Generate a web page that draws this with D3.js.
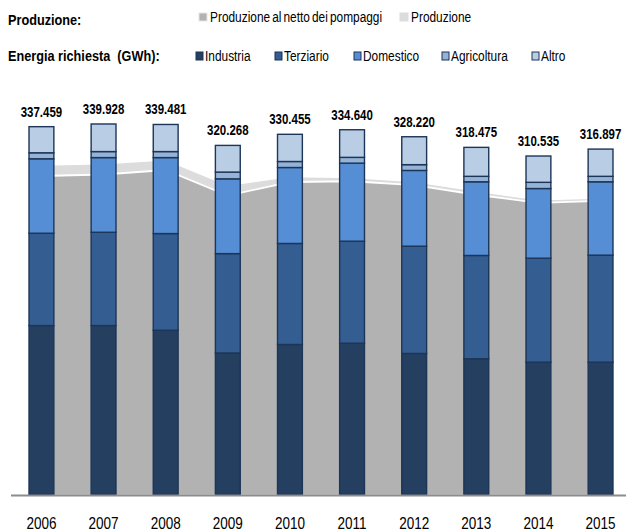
<!DOCTYPE html>
<html>
<head>
<meta charset="utf-8">
<script src="https://cdn.jsdelivr.net/npm/d3@7/dist/d3.min.js"></script>
<style>
  html, body { margin: 0; padding: 0; background: #fff; }
  svg { display: block; }
  text { font-family: "Liberation Sans", Arial, sans-serif; fill: #000; }
</style>
</head>
<body>
<svg id="chart" width="626" height="532"></svg>
<script>
// Energia richiesta per settore (GWh) e produzione, 2006-2015
const years = ["2006", "2007", "2008", "2009", "2010", "2011", "2012", "2013", "2014", "2015"];
const industria   = [155000, 155000, 150700, 129800, 137600, 138800, 129400, 124500, 121400, 121400];
const terziario   = [84700, 85600, 88700, 91200, 92700, 93600, 98400, 94800, 95400, 98200];
const domestico   = [68300, 68500, 69700, 68600, 69700, 71600, 69500, 67600, 63900, 67300];
const agricoltura = [5500, 5500, 5500, 6200, 5500, 5300, 5300, 5000, 5700, 5000];
const altro       = [23959, 25328, 24881, 24468, 24955, 25340, 25620, 26575, 24135, 24997];

// Produzione netta e produzione al netto dei pompaggi (GWh)
const produzione      = [301600, 302800, 306400, 283000, 291000, 290200, 286500, 277800, 269800, 271300];
const produzioneNetta = [292200, 293600, 297700, 274300, 286700, 287400, 283800, 275000, 267600, 269300];

const seriesKeys   = ["Industria", "Terziario", "Domestico", "Agricoltura", "Altro"];
const seriesValues = [industria, terziario, domestico, agricoltura, altro];
const seriesColors = ["#243f60", "#345d91", "#558ed5", "#95b3d7", "#b9cde5"];
const barStroke = "#1d3557";
const NARROW = 0.82; // horizontal squeeze giving a narrow face

const rows = years.map((y, i) => {
  const r = { year: y };
  seriesKeys.forEach((k, j) => r[k] = seriesValues[j][i]);
  r.prod = produzione[i];
  r.prodNetta = produzioneNetta[i];
  return r;
});

const svg = d3.select("#chart");

// condensed text helper
function narrowText(parent, x, y, str, size, opts = {}) {
  const t = parent.append("text")
    .attr("transform", `translate(${x},${y}) scale(${NARROW},1)`)
    .attr("font-size", size)
    .attr("text-anchor", opts.anchor || "start")
    .text(str);
  if (opts.bold) t.attr("font-weight", "bold");
  if (opts.wordSpacing != null) t.attr("word-spacing", opts.wordSpacing);
  t.style("white-space", "pre");
  return t;
}

const x = d3.scaleBand().domain(years).range([11, 631]).paddingInner(0.6).paddingOuter(0.29);
const y = d3.scaleLinear().domain([0, 400000]).range([494.5, 58.5]);
const cx = d => x(d.year) + x.bandwidth() / 2;

// Aree di produzione
svg.append("path")
  .datum(rows)
  .attr("fill", "#dcdcdc")
  .attr("d", d3.area().x(cx).y0(y(0)).y1(d => y(d.prod)));

svg.append("path")
  .datum(rows)
  .attr("fill", "#b2b2b2")
  .attr("d", d3.area().x(cx).y0(y(0)).y1(d => y(d.prodNetta)));

svg.append("path")
  .datum(rows)
  .attr("fill", "none")
  .attr("stroke", "#ffffff")
  .attr("stroke-width", 1.8)
  .attr("d", d3.line().x(cx).y(d => y(d.prodNetta)));

// Barre impilate
const stack = d3.stack().keys(seriesKeys)(rows);
const layers = svg.append("g").selectAll("g")
  .data(stack)
  .join("g")
  .attr("fill", (d, i) => seriesColors[i]);

layers.selectAll("rect")
  .data(d => d)
  .join("rect")
  .attr("x", d => x(d.data.year))
  .attr("width", x.bandwidth())
  .attr("y", d => y(d[1]))
  .attr("height", d => y(d[0]) - y(d[1]))
  .attr("stroke", barStroke)
  .attr("stroke-width", 1.4);

// Asse orizzontale
svg.append("line")
  .attr("x1", 11).attr("x2", 626)
  .attr("y1", 495.5).attr("y2", 495.5)
  .attr("stroke", "#8c8c8c")
  .attr("stroke-width", 2);

const xAxis = d3.axisBottom(x).tickSize(0).tickPadding(0);
const axisG = svg.append("g")
  .attr("transform", "translate(0,528.5)")
  .call(xAxis);
axisG.select(".domain").remove();
axisG.selectAll("text")
  .attr("font-size", 16.5)
  .attr("dy", 0)
  .attr("y", 0)
  .attr("transform", `scale(${NARROW},1)`)
  .style("font-family", "'Liberation Sans', Arial, sans-serif")
  .attr("fill", "#000");

// Totali sopra le barre
const fmt = d3.formatLocale({ decimal: ",", thousands: ".", grouping: [3] }).format(",d");
const totG = svg.append("g");
rows.forEach(d => {
  const tot = d3.sum(seriesKeys, k => d[k]);
  narrowText(totG, cx(d), y(tot) - 10, fmt(tot), 14, { bold: true, anchor: "middle" });
});

// Legenda
const leg = svg.append("g");
narrowText(leg, 8, 25, "Produzione:", 15.5, { bold: true });
narrowText(leg, 8, 61, "Energia richiesta  (GWh):", 15.5, { bold: true });

const prodLegend = [
  { label: "Produzione al netto dei pompaggi", color: "#b2b2b2", stroke: "#e6e6e6", x: 199 },
  { label: "Produzione", color: "#dcdcdc", stroke: "#dcdcdc", x: 400 }
];
prodLegend.forEach(p => {
  leg.append("rect").attr("x", p.x).attr("y", 13).attr("width", 8).attr("height", 8)
    .attr("fill", p.color).attr("stroke", p.stroke).attr("stroke-width", 1);
  narrowText(leg, p.x + 11, 22, p.label, 14.5, { wordSpacing: -1.5 });
});

const catX = [196, 275, 354, 442, 532];
seriesKeys.forEach((k, i) => {
  leg.append("rect").attr("x", catX[i]).attr("y", 52).attr("width", 7).attr("height", 8)
    .attr("fill", seriesColors[i]).attr("stroke", barStroke).attr("stroke-width", 1);
  narrowText(leg, catX[i] + 9, 61, k, 14.5);
});
</script>
</body>
</html>
